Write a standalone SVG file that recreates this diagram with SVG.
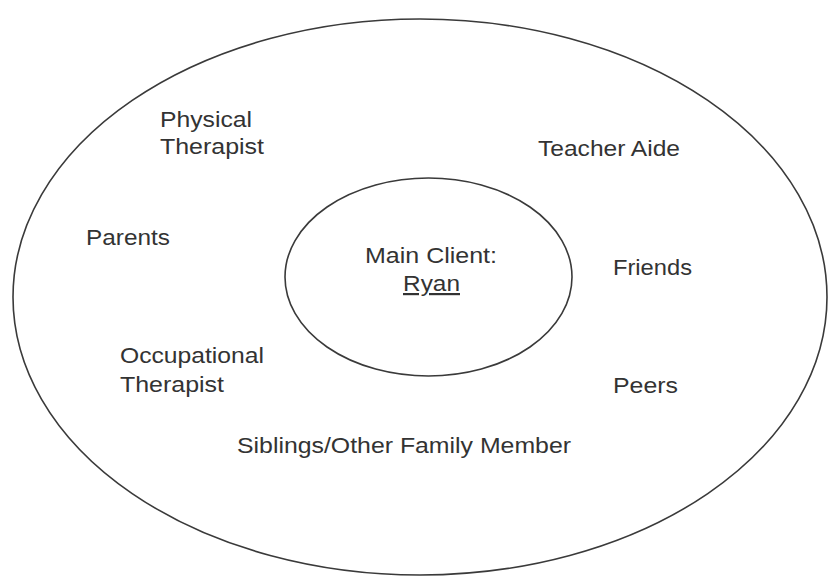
<svg xmlns="http://www.w3.org/2000/svg" width="828" height="576" viewBox="0 0 828 576">
<style>
.ring{fill:none;stroke:#3a3a3a;stroke-width:1.6}
.t{font-family:"Liberation Sans",Arial,sans-serif;font-size:22px;fill:#333}
</style>
<rect width="828" height="576" fill="#fff"/>
<g id="outer"><ellipse class="ring" cx="420" cy="297" rx="407" ry="278"/></g>
<g id="inner">
<ellipse class="ring" cx="428.5" cy="277" rx="143.5" ry="99"/>
<text class="t" x="365" y="263" textLength="132" lengthAdjust="spacingAndGlyphs">Main Client:</text>
<text class="t" x="403" y="291" textLength="57" lengthAdjust="spacingAndGlyphs" text-decoration="underline">Ryan</text>
</g>
<g id="physical-therapist">
<text class="t" x="160" y="127" textLength="92" lengthAdjust="spacingAndGlyphs">Physical</text>
<text class="t" x="160" y="154" textLength="104" lengthAdjust="spacingAndGlyphs">Therapist</text>
</g>
<g id="teacher-aide"><text class="t" x="538" y="156" textLength="142" lengthAdjust="spacingAndGlyphs">Teacher Aide</text></g>
<g id="parents"><text class="t" x="86" y="245" textLength="84" lengthAdjust="spacingAndGlyphs">Parents</text></g>
<g id="friends"><text class="t" x="613" y="275" textLength="79" lengthAdjust="spacingAndGlyphs">Friends</text></g>
<g id="occupational-therapist">
<text class="t" x="120" y="363" textLength="144" lengthAdjust="spacingAndGlyphs">Occupational</text>
<text class="t" x="120" y="392" textLength="104" lengthAdjust="spacingAndGlyphs">Therapist</text>
</g>
<g id="peers"><text class="t" x="613" y="393" textLength="65" lengthAdjust="spacingAndGlyphs">Peers</text></g>
<g id="siblings"><text class="t" x="237" y="453" textLength="334" lengthAdjust="spacingAndGlyphs">Siblings/Other Family Member</text></g>
<g id="connectors"></g>
</svg>
